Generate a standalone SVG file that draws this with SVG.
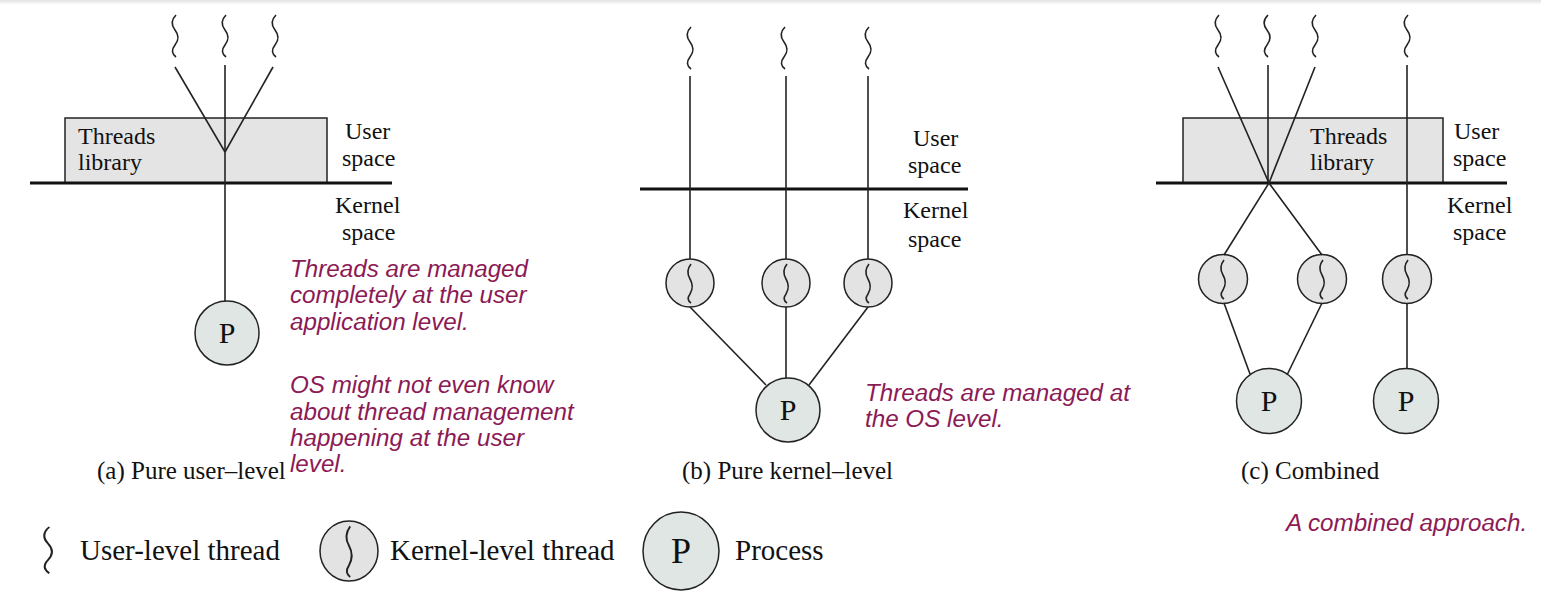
<svg xmlns="http://www.w3.org/2000/svg" xmlns:xlink="http://www.w3.org/1999/xlink" width="1541" height="602" viewBox="0 0 1541 602">
<style>
.ln{stroke:#222;stroke-width:1.6;fill:none}
.sep{stroke:#111;stroke-width:3;fill:none}
.sq{stroke:#222;stroke-width:1.6;fill:none}
.box{fill:#e4e4e4;stroke:#222;stroke-width:1.5}
.kc{fill:#e3e3e3;stroke:#222;stroke-width:1.5}
.pc{fill:#dfe6e4;stroke:#222;stroke-width:1.5}
.t{font-family:"Liberation Serif","Times New Roman",serif;font-size:24px;fill:#111}
.cap{font-family:"Liberation Serif","Times New Roman",serif;font-size:25px;fill:#111}
.lg{font-family:"Liberation Serif","Times New Roman",serif;font-size:29px;fill:#111}
.p{font-family:"Liberation Serif","Times New Roman",serif;font-size:30px;fill:#111;text-anchor:middle}
.note{font-family:"Liberation Sans",Arial,sans-serif;font-style:italic;font-size:24.2px;fill:#8c1a55}
</style>
<defs>
<linearGradient id="topg" x1="0" y1="0" x2="0" y2="1">
<stop offset="0" stop-color="#e2e2e2"/><stop offset="1" stop-color="#ffffff"/>
</linearGradient>
<path id="sq" class="sq" d="M1,0 C-4,5 -4,10 0,15 C4,20 4,25 0,30 C-4,35 -3,39 1,42"/>
<path id="ksq" class="sq" d="M1,-19 C-3,-14 -3,-9 0,-4 C3,1 3,6 0,11 C-3,15 -2,18 1,20"/>
</defs>
<rect x="0" y="0" width="1541" height="602" fill="#ffffff"/>
<rect x="0" y="0" width="1541" height="5" fill="url(#topg)"/>

<!-- Panel (a) -->
<g id="a-library">
<rect class="box" x="65" y="118" width="262" height="65"/>
<text class="t" x="78" y="144">Threads</text>
<text class="t" x="78" y="170">library</text>
</g>
<g id="a-ut1"><use xlink:href="#sq" x="175" y="15"/></g>
<g id="a-ut2"><use xlink:href="#sq" x="225" y="15"/></g>
<g id="a-ut3"><use xlink:href="#sq" x="275" y="15"/></g>
<g id="a-p">
<circle class="pc" cx="227" cy="333" r="32"/>
<text class="p" x="227" y="343">P</text>
</g>
<g id="a-labels">
<text class="t" x="345" y="139">User</text>
<text class="t" x="342" y="166">space</text>
<text class="t" x="335" y="213">Kernel</text>
<text class="t" x="342" y="240">space</text>
<text class="cap" x="97" y="479">(a) Pure user–level</text>
</g>
<g id="a-note">
<text class="note" x="290" y="277">Threads are managed</text>
<text class="note" x="290" y="303">completely at the user</text>
<text class="note" x="290" y="330">application level.</text>
<text class="note" x="290" y="393">OS might not even know</text>
<text class="note" x="290" y="420">about thread management</text>
<text class="note" x="290" y="446">happening at the user</text>
<text class="note" x="290" y="472">level.</text>
</g>

<!-- Panel (b) -->
<g id="b-ut1"><use xlink:href="#sq" x="690" y="27"/></g>
<g id="b-ut2"><use xlink:href="#sq" x="784" y="27"/></g>
<g id="b-ut3"><use xlink:href="#sq" x="868" y="27"/></g>
<g id="b-kt1"><circle class="kc" cx="690" cy="283" r="24"/><use xlink:href="#ksq" x="690" y="283"/></g>
<g id="b-kt2"><circle class="kc" cx="786" cy="283" r="24"/><use xlink:href="#ksq" x="786" y="283"/></g>
<g id="b-kt3"><circle class="kc" cx="868" cy="283" r="24"/><use xlink:href="#ksq" x="868" y="283"/></g>
<g id="b-p">
<circle class="pc" cx="788" cy="410" r="32"/>
<text class="p" x="788" y="420">P</text>
</g>
<g id="b-labels">
<text class="t" x="913" y="146">User</text>
<text class="t" x="908" y="173">space</text>
<text class="t" x="903" y="218">Kernel</text>
<text class="t" x="908" y="247">space</text>
<text class="cap" x="682" y="479">(b) Pure kernel–level</text>
</g>
<g id="b-note">
<text class="note" x="865" y="401">Threads are managed at</text>
<text class="note" x="865" y="427">the OS level.</text>
</g>

<!-- Panel (c) -->
<g id="c-library">
<rect class="box" x="1183" y="118" width="260" height="65"/>
<text class="t" x="1310" y="144">Threads</text>
<text class="t" x="1310" y="170">library</text>
</g>
<g id="c-ut1"><use xlink:href="#sq" x="1218" y="15"/></g>
<g id="c-ut2"><use xlink:href="#sq" x="1267" y="15"/></g>
<g id="c-ut3"><use xlink:href="#sq" x="1315" y="15"/></g>
<g id="c-ut4"><use xlink:href="#sq" x="1407" y="15"/></g>
<g id="c-kt1"><circle class="kc" cx="1223" cy="279" r="24.5"/><use xlink:href="#ksq" x="1223" y="279"/></g>
<g id="c-kt2"><circle class="kc" cx="1322" cy="279" r="24.5"/><use xlink:href="#ksq" x="1322" y="279"/></g>
<g id="c-kt3"><circle class="kc" cx="1407" cy="279" r="24.5"/><use xlink:href="#ksq" x="1407" y="279"/></g>
<g id="c-p1">
<circle class="pc" cx="1269" cy="401" r="32.5"/>
<text class="p" x="1269" y="411">P</text>
</g>
<g id="c-p2">
<circle class="pc" cx="1406" cy="401" r="32.5"/>
<text class="p" x="1406" y="411">P</text>
</g>
<g id="c-labels">
<text class="t" x="1454" y="139">User</text>
<text class="t" x="1453" y="166">space</text>
<text class="t" x="1447" y="213">Kernel</text>
<text class="t" x="1453" y="240">space</text>
<text class="cap" x="1241" y="479">(c) Combined</text>
</g>
<g id="c-note">
<text class="note" x="1286" y="531">A combined approach.</text>
</g>

<!-- Connectors -->
<g id="connectors">
<line class="sep" x1="30" y1="183" x2="392" y2="183"/>
<line class="ln" x1="175" y1="67" x2="225" y2="152"/>
<line class="ln" x1="273" y1="67" x2="225" y2="152"/>
<line class="ln" x1="225" y1="65" x2="225" y2="301"/>

<line class="sep" x1="640" y1="189" x2="968" y2="189"/>
<line class="ln" x1="690" y1="76" x2="690" y2="259"/>
<line class="ln" x1="786" y1="76" x2="786" y2="259"/>
<line class="ln" x1="868" y1="76" x2="868" y2="259"/>
<line class="ln" x1="690" y1="307" x2="766" y2="385"/>
<line class="ln" x1="786" y1="307" x2="786" y2="378"/>
<line class="ln" x1="868" y1="307" x2="809" y2="385"/>

<line class="sep" x1="1156" y1="183" x2="1507" y2="183"/>
<polyline class="ln" points="1218,67 1269,183 1322,255"/>
<polyline class="ln" points="1315,67 1269,183 1224,255"/>
<line class="ln" x1="1268" y1="65" x2="1268" y2="183"/>
<line class="ln" x1="1407" y1="65" x2="1407" y2="255"/>
<line class="ln" x1="1224" y1="303" x2="1250" y2="374"/>
<line class="ln" x1="1322" y1="303" x2="1287" y2="375"/>
<line class="ln" x1="1407" y1="304" x2="1407" y2="369"/>
</g>

<!-- Legend -->
<g id="legend-ut">
<use xlink:href="#sq" transform="translate(48,527) scale(1.3,1.1)"/>
<text class="lg" x="80" y="560">User-level thread</text>
</g>
<g id="legend-kt">
<ellipse class="kc" cx="349" cy="551" rx="29" ry="30"/>
<use xlink:href="#ksq" transform="translate(349,551) scale(1.2,1.3)"/>
<text class="lg" x="390" y="560">Kernel-level thread</text>
</g>
<g id="legend-p">
<ellipse class="pc" cx="681" cy="551" rx="38" ry="39"/>
<text class="p" x="681" y="563" style="font-size:36px">P</text>
<text class="lg" x="735" y="560">Process</text>
</g>
</svg>
